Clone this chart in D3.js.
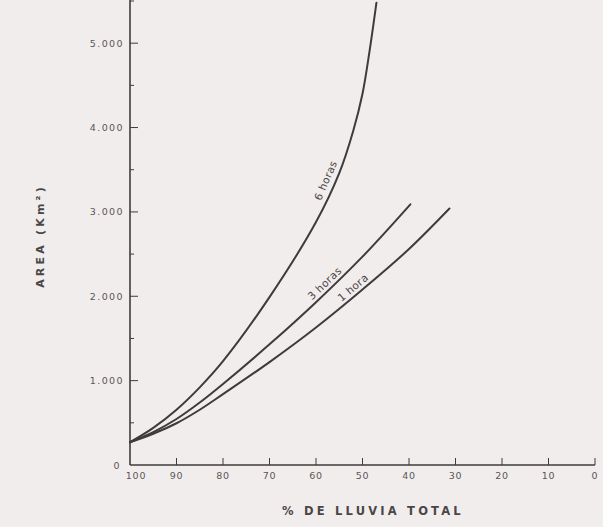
<!DOCTYPE html>
<html>
<head>
<meta charset="utf-8">
<script src="https://cdn.jsdelivr.net/npm/d3@7"></script>
<style>
	html, body { margin: 0; padding: 0; background: #f2eded; }
	svg { display: block; }
	text { font-family: "DejaVu Sans", sans-serif; fill: #5a5656; }
</style>
</head>
<body>
<svg id="svg"></svg>
<script>

// -------------------------------------------------------------------------- //

let width = 603,
	height = 527,
	x0 = 130, x1 = 595, y0 = 465, yTop = 1;

let xTicks = [100, 90, 80, 70, 60, 50, 40, 30, 20, 10, 0],
	yTicks = [0, 1000, 2000, 3000, 4000, 5000],
	yMinor = [500, 1500, 2500, 3500, 4500, 5500],
	yLabels = ["0", "1.000", "2.000", "3.000", "4.000", "5.000"];

// curves: % de lluvia total vs area (km2)
let pct6 = [100, 95, 90, 85, 80, 70, 60, 55, 52, 50, 48.5, 47],
	area6 = [270, 440, 655, 920, 1230, 1990, 2880, 3460, 3960, 4400, 4900, 5480];
let pct3 = [100, 95, 90, 85, 80, 70, 60, 50, 39.7],
	area3 = [270, 390, 545, 740, 960, 1430, 1930, 2470, 3090];
let pct1 = [100, 95, 90, 85, 80, 70, 60, 50, 40, 31.3],
	area1 = [270, 370, 495, 655, 840, 1220, 1630, 2080, 2560, 3040];

let series = [
	{ name: "6 horas", pct: pct6, area: area6, at: 56, off: -6 },
	{ name: "3 horas", pct: pct3, area: area3, at: 57, off: -4 },
	{ name: "1 hora", pct: pct1, area: area1, at: 51, off: -4 }
];

// ########################################################################## //

let svg = d3.select("svg#svg")
	.attr("width", width)
	.attr("height", height);

let xScale = d3.scaleLinear()
	.domain([100, 0])
	.range([x0, x1]);

let yScale = d3.scaleLinear()
	.domain([0, 5500])
	.range([y0, yTop]);

let ink = "#3f3b3b";

// axes lines
svg.append("line")
	.attr("x1", x0).attr("x2", x0)
	.attr("y1", y0).attr("y2", 0)
	.attr("stroke", ink).attr("stroke-width", 1.6);

svg.append("line")
	.attr("x1", x0).attr("x2", x1)
	.attr("y1", y0).attr("y2", y0)
	.attr("stroke", ink).attr("stroke-width", 1.6);

// y ticks (inward, to the right)
svg.selectAll("line.ytick")
	.data(yTicks.slice(1))
	.enter()
	.append("line")
	.attr("class", "ytick")
	.attr("x1", x0).attr("x2", x0 + 8)
	.attr("y1", d => yScale(d)).attr("y2", d => yScale(d))
	.attr("stroke", ink).attr("stroke-width", 1);

svg.selectAll("line.yminor")
	.data(yMinor)
	.enter()
	.append("line")
	.attr("class", "yminor")
	.attr("x1", x0).attr("x2", x0 + 4)
	.attr("y1", d => yScale(d)).attr("y2", d => yScale(d))
	.attr("stroke", ink).attr("stroke-width", 1);

svg.selectAll("text.ylab")
	.data(yTicks)
	.enter()
	.append("text")
	.attr("class", "ylab")
	.attr("x", d => d === 0 ? x0 - 9 : x0 - 6)
	.attr("y", d => yScale(d) + 3.5)
	.attr("text-anchor", "end")
	.attr("font-size", 9.5)
	.attr("letter-spacing", 1.4)
	.text((d, i) => yLabels[i]);

// x ticks (inward, upward)
svg.selectAll("line.xtick")
	.data(xTicks.slice(1))
	.enter()
	.append("line")
	.attr("class", "xtick")
	.attr("x1", d => xScale(d)).attr("x2", d => xScale(d))
	.attr("y1", y0).attr("y2", y0 - 7)
	.attr("stroke", ink).attr("stroke-width", 1);

svg.selectAll("text.xlab")
	.data(xTicks)
	.enter()
	.append("text")
	.attr("class", "xlab")
	.attr("x", d => xScale(d) + (d === 100 ? 6 : 0))
	.attr("y", y0 + 14)
	.attr("text-anchor", "middle")
	.attr("font-size", 9.5)
	.attr("letter-spacing", 0.8)
	.text(d => d);

// axis titles
svg.append("text")
	.text("% DE LLUVIA TOTAL")
	.attr("x", 373)
	.attr("y", 515)
	.attr("text-anchor", "middle")
	.attr("font-size", 11.5)
	.attr("font-weight", "bold")
	.attr("letter-spacing", 3.2)
	.style("fill", "#4a4646");

svg.append("text")
	.text("AREA (Km²)")
	.attr("text-anchor", "middle")
	.attr("transform", "translate(44,236) rotate(-90)")
	.attr("font-size", 11)
	.attr("font-weight", "bold")
	.attr("letter-spacing", 3.2)
	.style("fill", "#4a4646");

// ########################################################################## //

let line = d3.line()
	.x(d => xScale(d[0]))
	.y(d => yScale(d[1]))
	.curve(d3.curveCatmullRom.alpha(0.5));

series.forEach(function(s) {

	let pts = s.pct.map((p, i) => [p, s.area[i]]);

	let path = svg.append("path")
		.datum(pts)
		.attr("d", line)
		.attr("fill", "none")
		.attr("stroke", ink)
		.attr("stroke-width", 2)
		.attr("stroke-linecap", "round")
		.node();

	// label along the curve, found by walking the path to the target x
	let tx = xScale(s.at);
	let len = path.getTotalLength(), lo = 0, hi = len;
	for (let k = 0; k < 30; k++) {
		let mid = (lo + hi) / 2;
		if (path.getPointAtLength(mid).x < tx) lo = mid; else hi = mid;
	}
	let p = path.getPointAtLength(lo),
		q = path.getPointAtLength(Math.min(lo + 2, len)),
		ang = Math.atan2(q.y - p.y, q.x - p.x) * 180 / Math.PI;

	svg.append("text")
		.text(s.name)
		.attr("text-anchor", "middle")
		.attr("transform", `translate(${p.x},${p.y}) rotate(${ang}) translate(0,${s.off})`)
		.attr("font-size", 10.5)
		.attr("letter-spacing", 0.4)
		.style("fill", "#4a4646");
});

</script>
</body>
</html>
